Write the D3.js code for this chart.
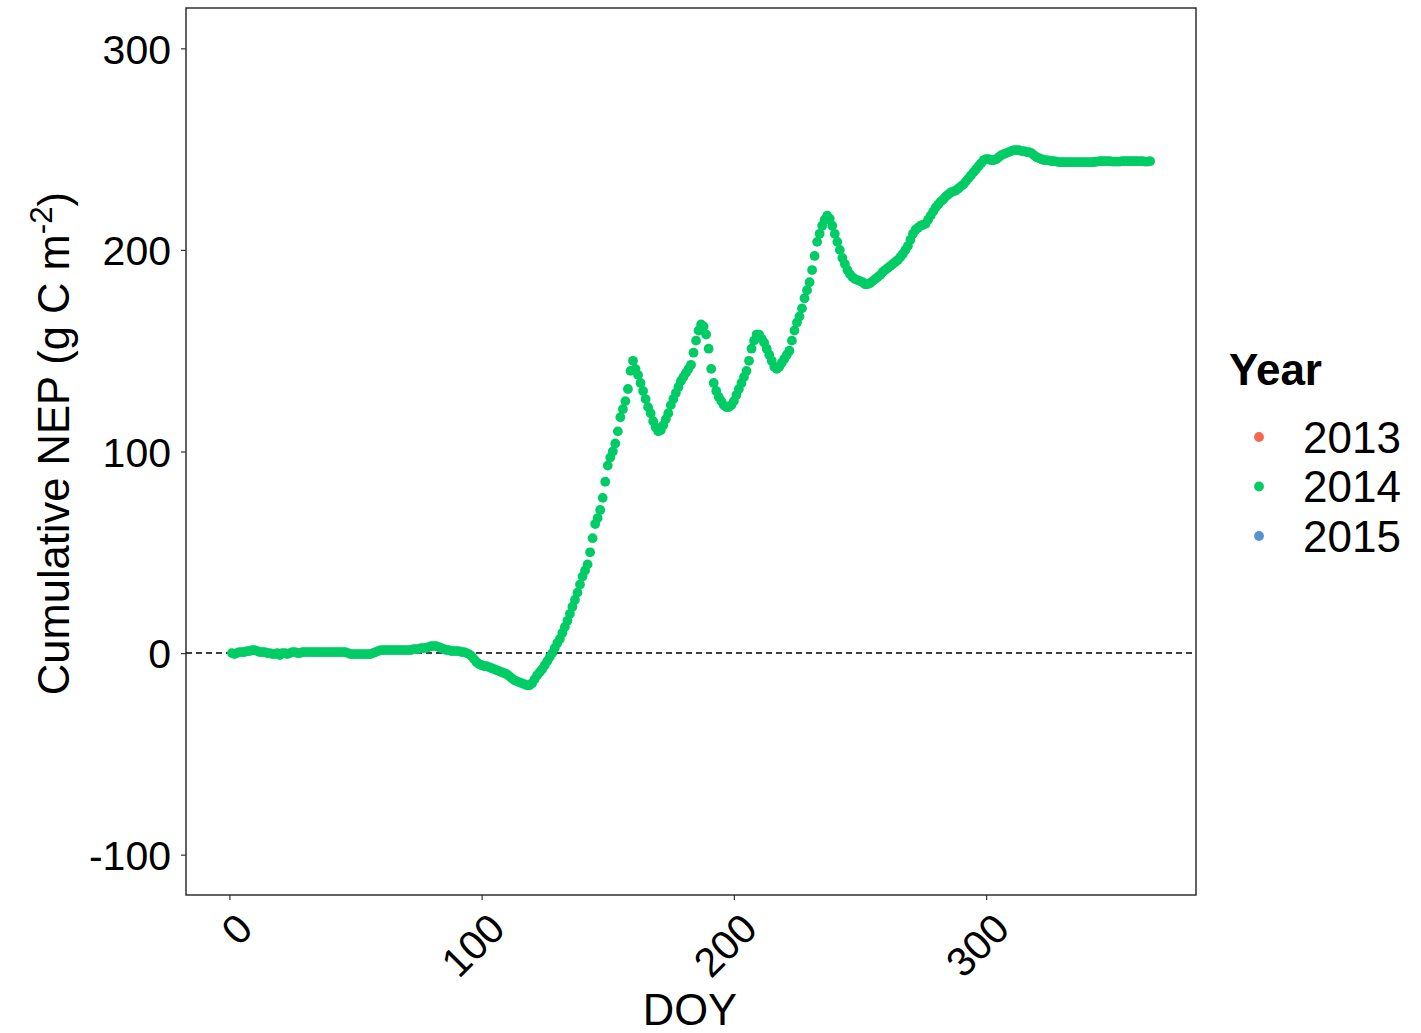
<!DOCTYPE html>
<html>
<head>
<meta charset="utf-8">
<script src="https://cdn.jsdelivr.net/npm/d3@7"></script>
<style>
  html, body { margin: 0; padding: 0; background: #fff; }
  svg text { font-family: "Liberation Sans", Arial, sans-serif; fill: #000; }
</style>
</head>
<body>
<svg id="chart" width="1421" height="1033"></svg>
<script>
// Legend entries and their colours
const years = ["2013", "2014", "2015"];
const yearColors = ["#F8664F", "#00CC66", "#5592D2"];

// Axis ticks
const xTicks = [0, 100, 200, 300];
const yTicks = [-100, 0, 100, 200, 300];

// Cumulative NEP (g C m-2) for 2014, one value per day starting at DOY 1
const nep2014 = [
  // DOY 1-10
  0, -0.5, 0, 0.5, 0.5, 0.5, 1, 1, 1.5, 1.5,
  // 11-20
  1, 0.5, 0.5, 0.5, 0, 0, -0.5, -0.5, 0, -1,
  // 21-30
  0, 0, -0.5, 0, 0.5, 0.5, 0, 0, 0.5, 0.5,
  // 31-40
  0.5, 0.5, 0.5, 0.5, 0.5, 0.5, 0.5, 0.5, 0.5, 0.5,
  // 41-50
  0.5, 0.5, 0.5, 0.5, 0.5, 0.5, 0, -0.5, -0.5, -0.5,
  // 51-60
  -0.5, -0.5, -0.5, -0.5, -0.5, -0.5, 0, 0.5, 1, 1.5,
  // 61-70
  1.5, 1.5, 1.5, 1.5, 1.5, 1.5, 1.5, 1.5, 1.5, 1.5,
  // 71-80
  1.5, 1.5, 2, 2, 2, 2.5, 2.5, 2.5, 3, 3.5,
  // 81-90
  3.5, 3.5, 3, 2.5, 2, 1.5, 1.5, 1, 1, 1,
  // 91-100
  1, 0.5, 0.5, 0, -0.5, -1.5, -3, -4.5, -5.5, -6,
  // 101-110
  -6.5, -6.5, -7, -7.5, -8, -8.5, -9, -9.5, -10, -10.5,
  // 111-120
  -11.5, -12.5, -13.5, -14, -14.5, -15, -15.5, -16, -16, -15,
  // 121-130
  -13, -11, -9.5, -8, -6, -4, -2, 0, 2.5, 5,
  // 131-140
  7, 10, 13, 16, 19.5, 23, 26.5, 30, 34, 38,
  // 141-150
  41, 44, 50, 57, 64, 67, 71, 77, 85, 93,
  // 151-160
  97, 100, 104, 110, 117, 121, 125, 131, 140, 145,
  // 161-170
  141, 138, 134, 130, 126, 122, 119, 115, 112, 110,
  // 171-180
  110.5, 113, 116, 119, 123, 126, 129, 132, 135, 137,
  // 181-190
  139, 141, 143, 149, 155, 160, 163, 162, 158, 151,
  // 191-200
  141, 134, 130, 127, 125, 123, 122, 122, 123, 125,
  // 201-210
  128, 131, 134, 137, 140, 145, 151, 155, 158, 158,
  // 211-220
  156, 154, 151, 148, 145, 142, 141, 142, 144, 146,
  // 221-230
  148, 150, 155, 160, 164, 167, 171, 176, 180, 184,
  // 231-240
  190, 197, 204, 208, 212, 215, 217, 215.5, 212, 208,
  // 241-250
  204, 200, 196, 193, 190, 188, 186.5, 185.5, 185, 184.5,
  // 251-260
  184, 183, 183, 183.5, 184.5, 185.5, 186.5, 187.5, 189, 190,
  // 261-270
  191, 192, 193, 194, 195, 196.5, 198, 200, 202, 205,
  // 271-280
  208, 210, 211, 212, 212.5, 213, 215, 217, 219, 221,
  // 281-290
  222.5, 224, 225, 226.5, 227.5, 228.5, 229, 229.5, 230.5, 231.5,
  // 291-300
  232.5, 234, 235.5, 237, 238.5, 240, 241.5, 243, 244.5, 245,
  // 301-310
  245, 244.5, 244.5, 245, 246, 247, 247.5, 248, 248.5, 249,
  // 311-320
  249.5, 249.5, 249.5, 249, 249, 248.5, 248.5, 248, 247, 246,
  // 321-330
  245.5, 245, 244.5, 244.5, 244.3, 244, 244, 243.8, 243.5, 243.5,
  // 331-340
  243.5, 243.5, 243.5, 243.5, 243.5, 243.5, 243.5, 243.5, 243.5, 243.5,
  // 341-350
  243.5, 243.5, 243.6, 243.8, 244, 244, 244, 244, 244, 243.8,
  // 351-360
  243.8, 243.8, 243.8, 244, 244, 244, 244, 244, 244, 244,
  // 361-365
  244, 244, 243.8, 243.8, 244
];

const svg = d3.select("#chart");

const panel = { left: 186, right: 1196, top: 8, bottom: 895 };

const x = d3.scaleLinear().domain([-17.2, 383.2]).range([panel.left, panel.right]);
const y = d3.scaleLinear().domain([-120, 320]).range([panel.bottom, panel.top]);

const tickFont = 41;
const titleFont = 43.5;
const legendFont = 44;
const pointR = 4.9;
const plainNumber = d => String(d);

// Panel background
svg.append("rect")
  .attr("x", panel.left).attr("y", panel.top)
  .attr("width", panel.right - panel.left)
  .attr("height", panel.bottom - panel.top)
  .attr("fill", "#fff");

// Zero reference line
svg.append("line")
  .attr("x1", panel.left).attr("x2", panel.right)
  .attr("y1", y(0)).attr("y2", y(0))
  .attr("stroke", "#000")
  .attr("stroke-width", 1.5)
  .attr("stroke-dasharray", "6,4");

// Points
const green = yearColors[years.indexOf("2014")];
svg.append("g")
  .selectAll("circle")
  .data(nep2014)
  .join("circle")
  .attr("cx", (d, i) => x(i + 1))
  .attr("cy", d => y(d))
  .attr("r", pointR)
  .attr("fill", green);

// Panel border
svg.append("rect")
  .attr("x", panel.left).attr("y", panel.top)
  .attr("width", panel.right - panel.left)
  .attr("height", panel.bottom - panel.top)
  .attr("fill", "none")
  .attr("stroke", "#222")
  .attr("stroke-width", 1.4);

// X axis
const xAxis = svg.append("g")
  .attr("transform", `translate(0,${panel.bottom})`)
  .call(d3.axisBottom(x).tickValues(xTicks).tickSize(5).tickFormat(plainNumber));
xAxis.select(".domain").remove();
xAxis.selectAll(".tick line").attr("stroke", "#333").attr("stroke-width", 1.2);
xAxis.selectAll(".tick text")
  .attr("font-size", tickFont)
  .attr("font-family", "Liberation Sans, Arial, sans-serif")
  .attr("fill", "#000")
  .attr("text-anchor", "end")
  .attr("dy", null)
  .attr("y", null)
  .attr("transform", "translate(25,36) rotate(-45)");

// Y axis
const yAxis = svg.append("g")
  .attr("transform", `translate(${panel.left},0)`)
  .call(d3.axisLeft(y).tickValues(yTicks).tickSize(5).tickPadding(10).tickFormat(plainNumber));
yAxis.select(".domain").remove();
yAxis.selectAll(".tick line").attr("stroke", "#333").attr("stroke-width", 1.2);
yAxis.selectAll(".tick text")
  .attr("font-size", tickFont)
  .attr("font-family", "Liberation Sans, Arial, sans-serif")
  .attr("fill", "#000")
  .attr("dy", "0.36em");

// Axis titles
svg.append("text")
  .attr("x", (panel.left + panel.right) / 2 - 1)
  .attr("y", 1025)
  .attr("text-anchor", "middle")
  .attr("font-size", titleFont)
  .text("DOY");

const yTitle = svg.append("text")
  .attr("transform", `translate(69,${(panel.top + panel.bottom) / 2 - 8}) rotate(-90)`)
  .attr("text-anchor", "middle")
  .attr("font-size", titleFont);
yTitle.append("tspan").text("Cumulative NEP (g C m");
yTitle.append("tspan").attr("dy", "-0.55em").attr("font-size", "0.72em").text("-2");
yTitle.append("tspan").attr("dy", "0.4em").text(")");

// Legend
const legend = svg.append("g").attr("transform", "translate(1229,0)");
legend.append("text")
  .attr("x", 0).attr("y", 385)
  .attr("font-size", legendFont)
  .attr("font-weight", "bold")
  .text("Year");

const keyY = d3.scalePoint().domain(years).range([437, 536]);
const items = legend.selectAll("g.item")
  .data(years)
  .join("g")
  .attr("class", "item")
  .attr("transform", d => `translate(0,${keyY(d)})`);
items.append("circle")
  .attr("cx", 30).attr("cy", 0).attr("r", pointR)
  .attr("fill", (d, i) => yearColors[i]);
items.append("text")
  .attr("x", 74).attr("y", 0)
  .attr("dy", "0.36em")
  .attr("font-size", legendFont)
  .text(d => d);
</script>
</body>
</html>
